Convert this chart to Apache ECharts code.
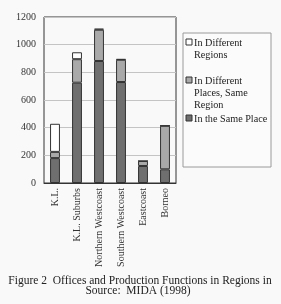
<!DOCTYPE html>
<html><head><meta charset="utf-8">
<script src="https://cdn.jsdelivr.net/npm/echarts@6/dist/echarts.min.js"></script>
<style>html,body{margin:0;padding:0;background:#f9f9f9}#c{width:281px;height:304px}</style>
</head><body><div id="c"></div>
<script>
var categories = ["K.L.", "K.L. Suburbs", "Northern Westcoast", "Southern Westcoast", "Eastcoast", "Borneo"];
var sameplace = [180, 725, 882, 730, 123, 99];
var diffPlaces = [45, 170, 226, 161, 36, 315];
var diffRegions = [203, 50, 8, 5, 0, 0];
var seriesNames = ["In Different Regions", "In Different Places, Same Region", "In the Same Place"];
var legendLines = [["In Different", "Regions"], ["In Different", "Places, Same", "Region"], ["In the Same Place"]];
var yTicks = [0, 200, 400, 600, 800, 1000, 1200];
var captionLines = ["Figure 2  Offices and Production Functions in Regions in", "Source:  MIDA (1998)"];

var font = "'Liberation Serif', 'DejaVu Serif', serif";
var colors = ["#ffffff", "#a9a9a9", "#6f6f6f"];
var chart = echarts.init(document.getElementById('c'));

var graphics = [];
graphics.push({type:'rect', x:183, y:33, shape:{x:0, y:0, width:88, height:134}, style:{fill:'#fbfbfb', stroke:'#9a9a9a', lineWidth:1}});
var ys = [37, 75, 113];
for (var i = 0; i < 3; i++) {
  graphics.push({type:'rect', x:186, y:ys[i]+2, shape:{x:0, y:0, width:6, height:6}, style:{fill:colors[i], stroke:'#333', lineWidth:1}});
  graphics.push({type:'text', x:194, y:ys[i], style:{text:legendLines[i].join('\n'), font:"10.2px " + font, fill:'#222', lineHeight:12}});
}
graphics.push({type:'text', x:140, y:281, style:{text:captionLines[0], font:"11.5px " + font, fill:'#222', align:'center', verticalAlign:'middle'}});
graphics.push({type:'text', x:138, y:291, style:{text:captionLines[1], font:"11.5px " + font, fill:'#222', align:'center', verticalAlign:'middle'}});

function mk(name, data, color) {
  return {name:name, type:'bar', stack:'a', data:data, barWidth:'45%',
    itemStyle:{color:color, borderColor:'#333', borderWidth:1}};
}

chart.setOption({
  animation:false,
  backgroundColor:'#f9f9f9',
  grid:{left:44, right:105, top:17, bottom:121, show:true, borderColor:'#333', borderWidth:1},
  xAxis:{type:'category', data:categories,
    axisLine:{lineStyle:{color:'#333'}}, axisTick:{show:false},
    axisLabel:{rotate:90, fontFamily:font, fontSize:10, color:'#333', margin:5, interval:0}},
  yAxis:{type:'value', min:0, max:1200, interval:200,
    axisLine:{show:false}, axisTick:{show:false},
    splitLine:{lineStyle:{color:'#c4c4c4'}},
    axisLabel:{fontFamily:font, fontSize:10, color:'#333', margin:8,
      formatter:function(v){ return yTicks.indexOf(v) >= 0 ? String(v) : ''; }}},
  series:[
    mk(seriesNames[2], sameplace, colors[2]),
    mk(seriesNames[1], diffPlaces, colors[1]),
    mk(seriesNames[0], diffRegions, colors[0])
  ],
  graphic:graphics
});
</script></body></html>
